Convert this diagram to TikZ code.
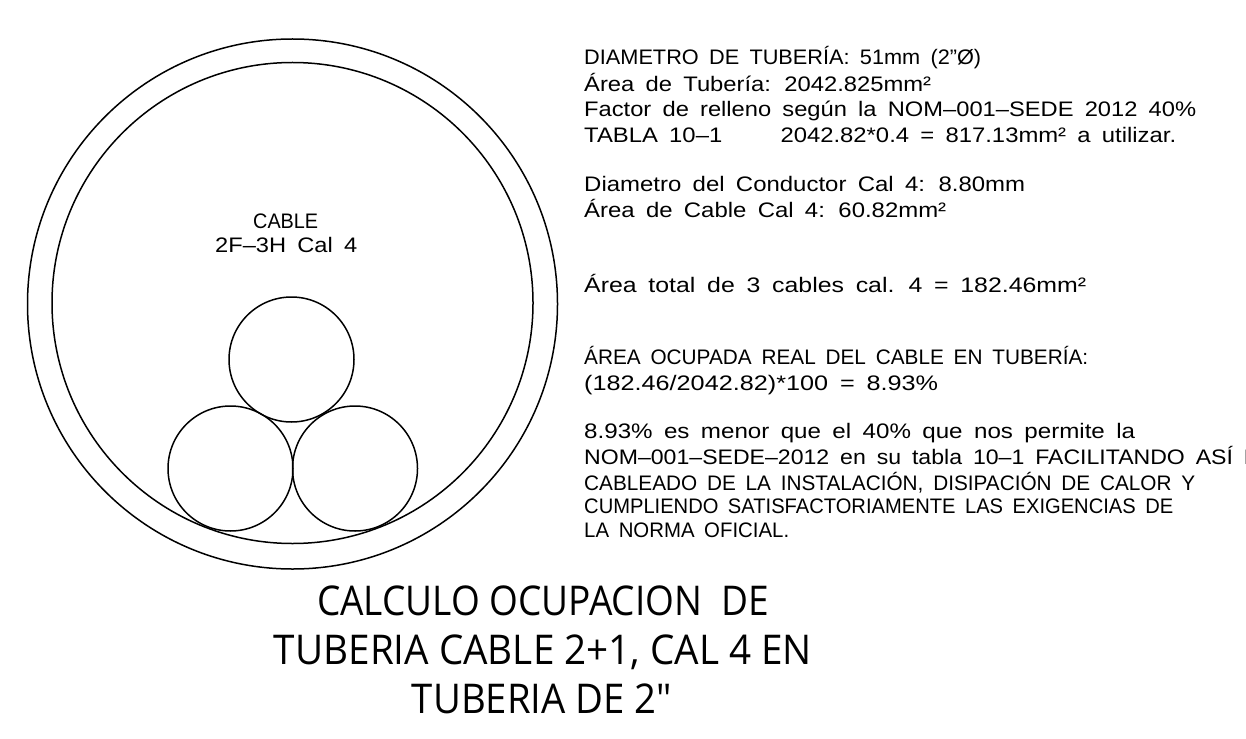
\documentclass[tikz,border=0pt]{standalone}
\usepackage{fontspec}
\usepackage{graphicx}
\setmainfont[WordSpace=1.7]{Liberation Sans}
\newfontfamily\titlefont{Open Sans}
\usetikzlibrary{positioning}
\newcommand{\fitline}[2]{\resizebox{#1pt}{\height}{#2}}
\tikzset{
     pipewall/.style = { draw, circle, line width=1.5pt, inner sep=0pt },
        notes/.style = { anchor=base west, inner sep=0pt, font=\fontsize{21}{24}\selectfont },
    titleline/.style = { anchor=base, inner sep=0pt, font=\titlefont\fontsize{41}{48}\selectfont }
}

\begin{document}
\begin{tikzpicture}[x=1pt, y=-1pt]
  \useasboundingbox (0,0) rectangle (1246,738);
  \clip (0,0) rectangle (1246,738);

  % tuberia
  \node at(292.5,304) [pipewall, minimum size=530pt] (outerwall) {};
  \node at(292.5,303) [pipewall, minimum size=481pt] (innerwall) {};

  % cables
  \node at(291.5,359.5) [pipewall, minimum size=125pt] (cabletop) {};
  \node at(230.5,468.5) [pipewall, minimum size=125pt] (cableleft) {};
  \node at(355,468.5) [pipewall, minimum size=125pt] (cableright) {};

  \node at(253,228) [notes] (cablename) {\fitline{65}{CABLE}};
  \node at(215,252) [notes] (cabletype) {\fitline{142}{2F--3H Cal 4}};

  % texto
  \node at(584,65) [notes] (l1) {\fitline{397}{DIAMETRO DE TUBERÍA: 51mm (2"Ø)}};
  \node at(584,92) [notes] (l2) {\fitline{347}{Área de Tubería: 2042.825mm²}};
  \node at(584,117) [notes] (l3) {\fitline{612}{Factor de relleno según la NOM--001--SEDE 2012 40\%}};
  \node at(584,143) [notes] (l4) {\fitline{592}{TABLA 10--1 \hspace{1.5em} 2042.82*0.4 = 817.13mm² a utilizar.}};
  \node at(584,191) [notes] (l5) {\fitline{441}{Diametro del Conductor Cal 4: 8.80mm}};
  \node at(584,217) [notes] (l6) {\fitline{362}{Área de Cable Cal 4: 60.82mm²}};
  \node at(584,292) [notes] (l7) {\fitline{502}{Área total de 3 cables cal. 4 = 182.46mm²}};
  \node at(584,364) [notes] (l8) {\fitline{504}{ÁREA OCUPADA REAL DEL CABLE EN TUBERÍA:}};
  \node at(584,390) [notes] (l9) {\fitline{354}{(182.46/2042.82)*100 = 8.93\%}};
  \node at(584,438) [notes] (l10) {\fitline{551}{8.93\% es menor que el 40\% que nos permite la}};
  \node at(584,464) [notes] (l11) {\fitline{688}{NOM--001--SEDE--2012 en su tabla 10--1 FACILITANDO ASÍ EL}};
  \node at(584,490) [notes] (l12) {\fitline{611}{CABLEADO DE LA INSTALACIÓN, DISIPACIÓN DE CALOR Y}};
  \node at(584,513) [notes] (l13) {\fitline{589}{CUMPLIENDO SATISFACTORIAMENTE LAS EXIGENCIAS DE}};
  \node at(584,537) [notes] (l14) {\fitline{205}{LA NORMA OFICIAL.}};

  % titulo
  \node at(543,615.5) [titleline] (t1) {\fitline{452}{CALCULO OCUPACION\ \ DE}};
  \node at(543,664.5) [titleline] (t2) {\fitline{538}{TUBERIA CABLE 2+1, CAL 4 EN}};
  \node at(542,713.5) [titleline] (t3) {\fitline{260}{TUBERIA DE 2"}};
\end{tikzpicture}
\end{document}
